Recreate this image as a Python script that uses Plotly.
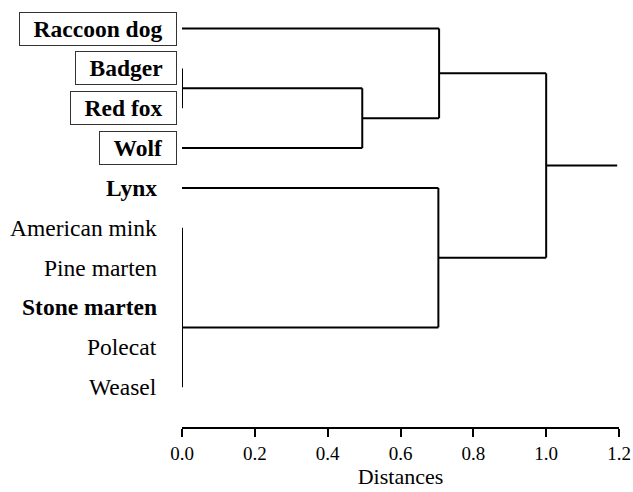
import plotly.graph_objects as go

# ---- data ----
leaves = ["Raccoon dog", "Badger", "Red fox", "Wolf", "Lynx",
          "American mink", "Pine marten", "Stone marten", "Polecat", "Weasel"]
bold_leaves = ["Raccoon dog", "Badger", "Red fox", "Wolf", "Lynx", "Stone marten"]
boxed_leaves = ["Raccoon dog", "Badger", "Red fox", "Wolf"]

# internal nodes: name, children, merge distance
node_names = ["A", "B", "C", "D", "E", "F"]
node_children = [["Badger", "Red fox"],
                 ["A", "Wolf"],
                 ["Raccoon dog", "B"],
                 ["American mink", "Pine marten", "Stone marten", "Polecat", "Weasel"],
                 ["Lynx", "D"],
                 ["C", "E"]]
node_heights = [0.0, 0.495, 0.706, 0.0, 0.704, 1.0]
node_anchor_override = {"D": 7.5}   # link position of the mustelid group as drawn
root_stem_end = 1.195

tick_values = [0.0, 0.2, 0.4, 0.6, 0.8, 1.0, 1.2]
tick_labels = ["0.0", "0.2", "0.4", "0.6", "0.8", "1.0", "1.2"]

# ---- compute dendrogram geometry ----
pos = {name: i for i, name in enumerate(leaves)}
hgt = {name: 0.0 for name in leaves}
for name, ch, h in zip(node_names, node_children, node_heights):
    ys = [pos[c] for c in ch]
    pos[name] = node_anchor_override.get(name, (min(ys) + max(ys)) / 2)
    hgt[name] = h

xs, ys_line = [], []
for name, ch, h in zip(node_names, node_children, node_heights):
    cy = [pos[c] for c in ch]
    xs += [h, h, None]
    ys_line += [min(cy), max(cy), None]
    for c in ch:
        if hgt[c] != h:
            xs += [hgt[c], h, None]
            ys_line += [pos[c], pos[c], None]
root = node_names[-1]
xs += [hgt[root], root_stem_end, None]
ys_line += [pos[root], pos[root], None]

FONT = "Liberation Serif"
fig = go.Figure()
fig.add_trace(go.Scatter(x=xs, y=ys_line, mode="lines",
                         line=dict(color="black", width=2),
                         hoverinfo="skip", showlegend=False))

PAD = "&nbsp;&#8201;"
annotations = []
for i, name in enumerate(leaves):
    boxed = name in boxed_leaves
    txt = f"<b>{name}</b>" if name in bold_leaves else name
    if boxed:
        txt = PAD + txt + PAD
    annotations.append(dict(
        x=0, y=i, xref="x", yref="y", text=txt, showarrow=False,
        xanchor="right", yanchor="middle",
        xshift=-5 if boxed else -21,
        font=dict(family=FONT, size=23.5, color="black"),
        bordercolor="#333" if boxed else "rgba(0,0,0,0)",
        borderwidth=1, borderpad=3,
    ))

fig.update_layout(
    width=633, height=492,
    margin=dict(l=182, r=14, t=0, b=65),
    plot_bgcolor="white", paper_bgcolor="white",
    annotations=annotations,
    xaxis=dict(range=[0, 1.2], showgrid=False, zeroline=False,
               showline=True, linecolor="black", linewidth=1.5,
               ticks="outside", ticklen=8, tickwidth=1.5, tickcolor="black",
               tickvals=tick_values, ticktext=tick_labels,
               tickfont=dict(family=FONT, size=19, color="black"),
               title=dict(text="Distances", standoff=6,
                          font=dict(family=FONT, size=22, color="black"))),
    yaxis=dict(range=[10.0, -0.716], visible=False),
)
fig.write_html("out.html", config={"displayModeBar": False},
               post_script="document.body.style.margin='0';")
